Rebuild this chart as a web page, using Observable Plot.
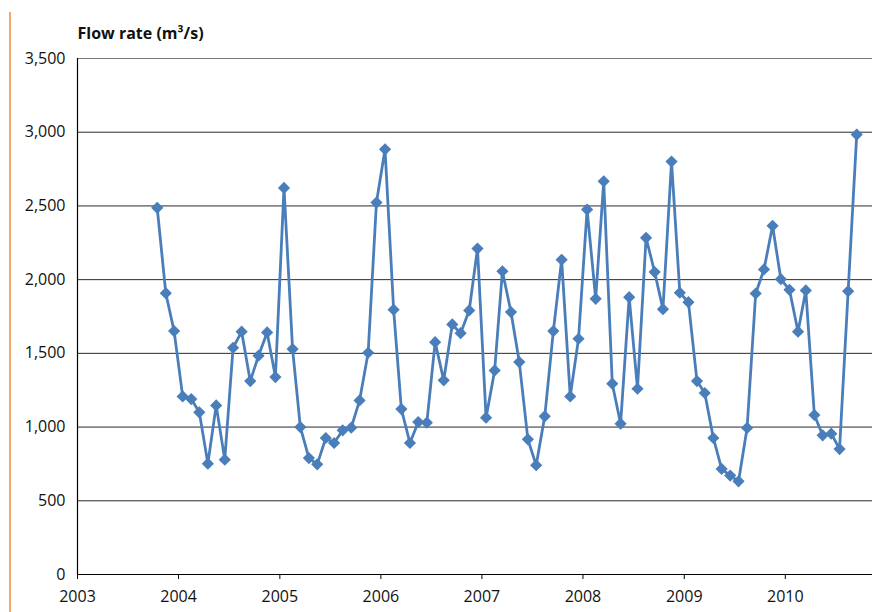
<!DOCTYPE html>
<html><head><meta charset="utf-8">
<script src="https://cdn.jsdelivr.net/npm/d3@7"></script>
<script src="https://cdn.jsdelivr.net/npm/@observablehq/plot@0.6"></script>
<style>
body{margin:0;background:#fff;}
#wrap{position:relative;width:872px;height:612px;overflow:hidden;background:#fff;}
#bar{position:absolute;left:9px;top:12px;width:2px;height:600px;background:#f5a66c;}
</style></head><body><div id="wrap"><div id="bar"></div></div>
<script>
// Monthly flow rate, Oct 2003 – Sep 2010 (m³/s)
const firstMonth = "2003-10";
const flow = [2487,1908,1651,1208,1190,1100,752,1147,779,1538,
  1647,1312,1484,1642,1339,2622,1529,1000,790,747,
  926,892,978,996,1181,1504,2523,2884,1796,1122,
  892,1034,1030,1576,1317,1696,1637,1791,2211,1064,
  1384,2057,1780,1441,917,741,1073,1651,2135,1208,
  1599,2475,1870,2667,1294,1023,1881,1260,2284,2051,
  1800,2801,1911,1847,1312,1231,926,716,671,632,
  994,1906,2069,2365,2003,1931,1647,1927,1082,944,
  955,851,1922,2984];
const yTicks = [0,500,1000,1500,2000,2500,3000,3500];
const yearTicks = ["2003","2004","2005","2006","2007","2008","2009","2010"];
const title = "Flow rate (m³/s)";

const start = d3.utcParse("%Y-%m")(firstMonth);
const months = d3.utcMonth.range(start, d3.utcMonth.offset(start, flow.length));
const data = months.map((m, i) => ({date: d3.utcDay.offset(m, 15), flow: flow[i]}));
const yearDates = yearTicks.map(y => d3.utcParse("%Y")(y));
const xDomain = [yearDates[0], new Date(Date.UTC(2010, 10, 12))];

const blue = "#4a7ebb";
const plot = Plot.plot({
  width: 872, height: 612,
  marginLeft: 77, marginRight: 0, marginTop: 58, marginBottom: 38,
  style: {fontFamily: "'Open Sans', sans-serif", fontSize: "16px", color: "#111", background: "transparent", overflow: "visible"},
  x: {type: "utc", domain: xDomain},
  y: {domain: [0, 3500]},
  marks: [
    Plot.ruleY(yTicks.filter(d => d > 0 && d < 3500), {stroke: "#2a2a2a", strokeWidth: 1}),
    Plot.ruleY([3500], {stroke: "#7a7a7a", strokeWidth: 1.2}),
    Plot.axisY({ticks: yTicks, tickSize: 0, tickPadding: 12, tickFormat: d3.format(","), label: null}),
    Plot.axisX({ticks: yearDates, tickSize: 5, tickPadding: 11, tickFormat: d3.utcFormat("%Y"), label: null, stroke: "#000"}),
    Plot.ruleY([0], {stroke: "#000", strokeWidth: 1.2}),
    Plot.ruleX([xDomain[0]], {stroke: "#000", strokeWidth: 1.2}),
    Plot.line(data, {x: "date", y: "flow", stroke: blue, strokeWidth: 2.8}),
    Plot.dot(data, {x: "date", y: "flow", symbol: "diamond2", r: 5.5, fill: blue, stroke: "none"}),
    Plot.text([title], {frameAnchor: "top-left", lineAnchor: "bottom", textAnchor: "start", dy: -20, fontWeight: "bold", fontSize: 16, fill: "#111"})
  ]
});
plot.style.position = "absolute";
plot.style.left = "0";
plot.style.top = "0";
document.getElementById("wrap").appendChild(plot);
</script>
</body></html>
